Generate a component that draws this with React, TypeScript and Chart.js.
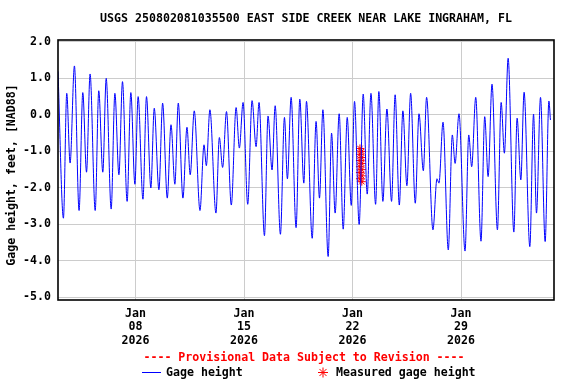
import React, { useEffect, useRef } from 'react';
import { Chart, registerables } from 'chart.js';

Chart.register(...registerables);

const titleText = 'USGS 250802081035500 EAST SIDE CREEK NEAR LAKE INGRAHAM, FL';
const yAxisLabel = 'Gage height, feet, [NAD88]';
const provisionalText = '---- Provisional Data Subject to Revision ----';
const seriesNames = ['Gage height', 'Measured gage height'];

// x values are days of January 2026 (Jan 8 00:00 = 8)
const xTickDays = [8, 15, 22, 29];
const xTickLabels = [
  ['Jan', '08', '2026'],
  ['Jan', '15', '2026'],
  ['Jan', '22', '2026'],
  ['Jan', '29', '2026'],
];
const yTickValues = [2, 1, 0, -1, -2, -3, -4, -5];

const gageDays = [
  3.0, 3.35, 3.565, 3.78, 4.06, 4.36, 4.6, 4.84, 5.07, 5.4, 5.63, 5.89, 6.11, 6.43, 6.67, 6.93,
  7.16, 7.46, 7.7, 7.96, 8.17, 8.48, 8.71, 8.99, 9.21, 9.51, 9.75, 10.05, 10.29, 10.54, 10.76,
  11.06, 11.32, 11.53, 11.79, 12.16, 12.42, 12.57, 12.8, 13.19, 13.41, 13.62, 13.87, 14.18,
  14.49, 14.7, 14.94, 15.24, 15.52, 15.78, 15.97, 16.32, 16.55, 16.81, 17.01, 17.35, 17.61,
  17.8, 18.04, 18.36, 18.6, 18.86, 19.03, 19.4, 19.65, 19.87, 20.09, 20.43, 20.65, 20.88,
  21.14, 21.4, 21.66, 21.92, 22.13, 22.43, 22.69, 22.95, 23.19, 23.49, 23.7, 23.96, 24.22,
  24.52, 24.75, 25.02, 25.25, 25.51, 25.75, 26.05, 26.29, 26.57, 26.78, 27.19, 27.45, 27.58,
  27.84, 28.18, 28.44, 28.62, 28.87, 29.26, 29.5, 29.69, 29.95, 30.29, 30.53, 30.75, 31.0,
  31.35, 31.59, 31.8, 32.04, 32.41, 32.62, 32.86, 33.07, 33.44, 33.68, 33.87, 34.13, 34.43,
  34.67, 34.77,
];
const gageValues = [
  1.19, -2.83, 0.59, -1.32, 1.34, -2.62, 0.61, -1.57, 1.12, -2.62, 0.66, -1.57, 1.0, -2.58, 0.59, -1.64,
  0.91, -2.37, 0.61, -1.9, 0.5, -2.31, 0.5, -2.0, 0.18, -2.05, 0.32, -2.28, -0.27, -1.9, 0.32,
  -2.28, -0.34, -1.64, 0.11, -2.62, -0.82, -1.39, 0.14, -2.69, -0.62, -1.44, 0.09, -2.47,
  0.2, -0.91, 0.34, -2.45, 0.39, -0.87, 0.34, -3.31, -0.03, -1.51, 0.25, -3.27, -0.07,
  -1.75, 0.48, -3.09, 0.43, -1.87, 0.37, -3.38, -0.18, -2.28, 0.14, -3.88, -0.5, -2.69,
  0.03, -3.13, -0.07, -2.48, 0.37, -3.0, 0.57, -2.17, 0.59, -2.45, 0.64, -2.37, 0.16,
  -2.37, 0.55, -2.47, 0.11, -1.94, 0.59, -2.42, 0.03, -1.53, 0.48, -3.15, -1.75, -1.87,
  -0.2, -3.7, -0.55, -1.33, 0.03, -3.73, -0.55, -1.42, 0.48, -3.46, -0.05, -1.69, 0.84,
  -3.15, 0.34, -1.05, 1.55, -3.21, -0.09, -1.78, 0.62, -3.61, 0.02, -2.69, 0.48, -3.47,
  0.38, -0.14,
];

const measuredDays = [22.48, 22.6, 22.48, 22.6, 22.48, 22.6, 22.48, 22.6, 22.48, 22.6, 22.48, 22.6];
const measuredValues = [-0.92, -1.0, -1.08, -1.17, -1.25, -1.33, -1.42, -1.5, -1.58, -1.67, -1.75, -1.83];

const FONT = "bold 11.6px 'DejaVu Sans Mono'";

export default function App() {
  const canvasRef = useRef<HTMLCanvasElement | null>(null);

  useEffect(() => {
    document.body.style.margin = '0';
    const canvas = canvasRef.current;
    if (!canvas) return;

    const decorPlugin = {
      id: 'decor',
      afterDraw(chart: any) {
        const ctx = chart.ctx as CanvasRenderingContext2D;
        const a = chart.chartArea;
        ctx.save();
        // frame
        ctx.strokeStyle = '#000';
        ctx.lineWidth = 1.6;
        ctx.strokeRect(a.left, a.top, a.right - a.left, a.bottom - a.top);
        // title
        ctx.font = FONT;
        ctx.fillStyle = '#000';
        ctx.textAlign = 'center';
        ctx.textBaseline = 'middle';
        ctx.fillText(titleText, (a.left + a.right) / 2, 19);
        // y label
        ctx.save();
        ctx.translate(12, 175);
        ctx.rotate(-Math.PI / 2);
        ctx.fillText(yAxisLabel, 0, 0);
        ctx.restore();
        // provisional
        ctx.fillStyle = '#ff0000';
        ctx.fillText(provisionalText, 304, 358);
        // legend
        ctx.strokeStyle = '#0000ff';
        ctx.lineWidth = 1;
        ctx.beginPath();
        ctx.moveTo(142, 372.5);
        ctx.lineTo(161, 372.5);
        ctx.stroke();
        ctx.fillStyle = '#000';
        ctx.textAlign = 'left';
        ctx.fillText(seriesNames[0], 166, 373);
        ctx.fillText(seriesNames[1], 336, 373);
        ctx.strokeStyle = '#ff0000';
        ctx.lineWidth = 1;
        const cx = 323, cy = 372.5, r = 5;
        ctx.beginPath();
        for (let i = 0; i < 4; i++) {
          const ang = (i * Math.PI) / 4;
          ctx.moveTo(cx - r * Math.cos(ang), cy - r * Math.sin(ang));
          ctx.lineTo(cx + r * Math.cos(ang), cy + r * Math.sin(ang));
        }
        ctx.stroke();
        ctx.restore();
      },
    };

    const chart = new Chart(canvas, {
      type: 'line',
      data: {
        datasets: [
          {
            label: seriesNames[0],
            data: gageDays.map((d, i) => ({ x: d, y: gageValues[i] })),
            borderColor: '#0000ff',
            borderWidth: 1,
            pointRadius: 0,
            cubicInterpolationMode: 'monotone',
            fill: false,
          },
          {
            label: seriesNames[1],
            data: measuredDays.map((d, i) => ({ x: d, y: measuredValues[i] })),
            showLine: false,
            pointStyle: 'star',
            pointRadius: 4,
            borderColor: '#ff0000',
            backgroundColor: '#ff0000',
            borderWidth: 1,
          },
        ],
      },
      options: {
        animation: false,
        responsive: false,
        maintainAspectRatio: false,
        layout: { padding: { left: 0, right: 22, top: 40, bottom: 0 } },
        plugins: {
          legend: { display: false },
          title: { display: false },
          tooltip: { enabled: false },
        },
        scales: {
          x: {
            type: 'linear',
            min: 3,
            max: 35,
            afterBuildTicks: (scale: any) => {
              scale.ticks = xTickDays.map((v) => ({ value: v }));
            },
            afterFit: (scale: any) => {
              scale.height = 84;
            },
            grid: { color: '#cccccc', lineWidth: 1, drawTicks: false },
            border: { display: false },
            ticks: {
              autoSkip: false,
              maxRotation: 0,
              padding: 7,
              color: '#000',
              font: { family: "'DejaVu Sans Mono'", size: 11.6, weight: 'bold', lineHeight: 1.17 },
              callback: (value: any) => {
                const i = xTickDays.indexOf(Number(value));
                return i >= 0 ? xTickLabels[i] : '';
              },
            },
          },
          y: {
            type: 'linear',
            min: -5.07,
            max: 2.05,
            afterBuildTicks: (scale: any) => {
              scale.ticks = yTickValues.map((v) => ({ value: v }));
            },
            afterFit: (scale: any) => {
              scale.width = 58;
            },
            grid: { color: '#cccccc', lineWidth: 1, drawTicks: false },
            border: { display: false },
            ticks: {
              padding: 7,
              color: '#000',
              font: { family: "'DejaVu Sans Mono'", size: 11.6, weight: 'bold' },
              callback: (value: any) => Number(value).toFixed(1),
            },
          },
        },
      },
      plugins: [decorPlugin],
    } as any);

    return () => {
      chart.destroy();
    };
  }, []);

  return (
    <div style={{ width: 576, height: 384 }}>
      <canvas ref={canvasRef} width={576} height={384} style={{ display: 'block', width: 576, height: 384 }} />
    </div>
  );
}
